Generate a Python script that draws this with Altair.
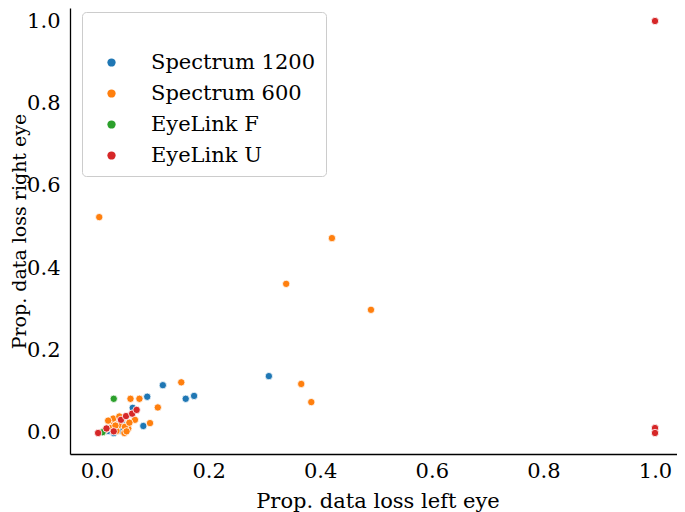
import altair as alt
import pandas as pd

categories = ["Spectrum 1200", "Spectrum 600", "EyeLink F", "EyeLink U"]
colors = ["#1f77b4", "#ff7f0e", "#2ca02c", "#d62728"]

s1200_x = [0.308, 0.118, 0.090, 0.159, 0.174, 0.083, 0.042, 0.064, 0.020, 0.035, 0.045, 0.030]
s1200_y = [0.138, 0.116, 0.088, 0.083, 0.090, 0.017, 0.006, 0.061, 0.005, 0.010, 0.030, 0.000]

s600_x = [0.004, 0.421, 0.339, 0.491, 0.366, 0.384, 0.151, 0.109, 0.095, 0.060, 0.076,
          0.030, 0.029, 0.049, 0.056, 0.068, 0.020, 0.040, 0.045, 0.035, 0.050, 0.025,
          0.015, 0.058, 0.040, 0.010, 0.033, 0.053]
s600_y = [0.524, 0.473, 0.362, 0.299, 0.119, 0.075, 0.123, 0.062, 0.024, 0.083, 0.083,
          0.025, 0.035, 0.000, 0.011, 0.032, 0.030, 0.020, 0.035, 0.005, 0.015, 0.012,
          0.008, 0.025, 0.040, 0.002, 0.018, 0.004]

elf_x = [0.030, 0.010]
elf_y = [0.083, 0.002]

elu_x = [0.002, 0.017, 0.030, 0.043, 0.052, 0.063, 0.071, 1.0, 1.0, 1.0]
elu_y = [0.000, 0.011, 0.004, 0.032, 0.041, 0.047, 0.056, 1.0, 0.012, 0.000]

rows = []
for cat, xs, ys in zip(categories, [s1200_x, s600_x, elf_x, elu_x], [s1200_y, s600_y, elf_y, elu_y]):
    for x, y in zip(xs, ys):
        rows.append({"left": x, "right": y, "device": cat})
df = pd.DataFrame(rows)
df["order"] = range(len(df))

FS = 21

chart = alt.Chart(df).mark_circle(
    size=54, opacity=1, stroke="white", strokeWidth=0.8
).encode(
    x=alt.X("left:Q", title="Prop. data loss left eye",
            scale=alt.Scale(domain=[-0.0484, 1.0394], nice=False, zero=False),
            axis=alt.Axis(values=[0.0, 0.2, 0.4, 0.6, 0.8, 1.0], format=".1f",
                          ticks=False, grid=False, labelPadding=6,
                          titleX=307.5, titleY=53, titleAlign="center",
                          titleBaseline="alphabetic")),
    y=alt.Y("right:Q", title="Prop. data loss right eye",
            scale=alt.Scale(domain=[-0.051, 1.0316], nice=False, zero=False),
            axis=alt.Axis(values=[0.0, 0.2, 0.4, 0.6, 0.8, 1.0], format=".1f",
                          ticks=False, grid=False, labelPadding=10, titleFontSize=19,
                          titleX=-45, titleY=223, titleAngle=270, titleAlign="center",
                          titleBaseline="alphabetic")),
    color=alt.Color("device:N", scale=alt.Scale(domain=categories, range=colors),
                    legend=alt.Legend(title=" ", orient="none", legendX=12, legendY=4,
                                      padding=10, symbolOffset=9, labelOffset=29,
                                      rowPadding=9, titleFontSize=20, titlePadding=10,
                                      labelFontSize=FS, labelLimit=400,
                                      symbolSize=68, symbolType="circle",
                                      symbolStrokeWidth=0, fillColor="white",
                                      strokeColor="#cccccc", cornerRadius=4,
                                      labelColor="black")),
    order=alt.Order("order:Q"),
).properties(
    width=607, height=446,
    autosize=alt.AutoSizeParams(type="none"),
    padding={"left": 62, "top": 0, "right": 0, "bottom": 58},
).configure(
    font="DejaVu Serif"
).configure_view(
    stroke=None
).configure_axis(
    domainColor="black", domainWidth=1.3, labelFontSize=FS, titleFontSize=FS,
    labelColor="black", titleColor="black", titleFontWeight="normal",
    labelFont="DejaVu Serif", titleFont="DejaVu Serif"
).configure_legend(
    labelFont="DejaVu Serif", titleFont="DejaVu Serif"
)

chart.save("out.html", embed_options={"renderer": "svg", "actions": False})
